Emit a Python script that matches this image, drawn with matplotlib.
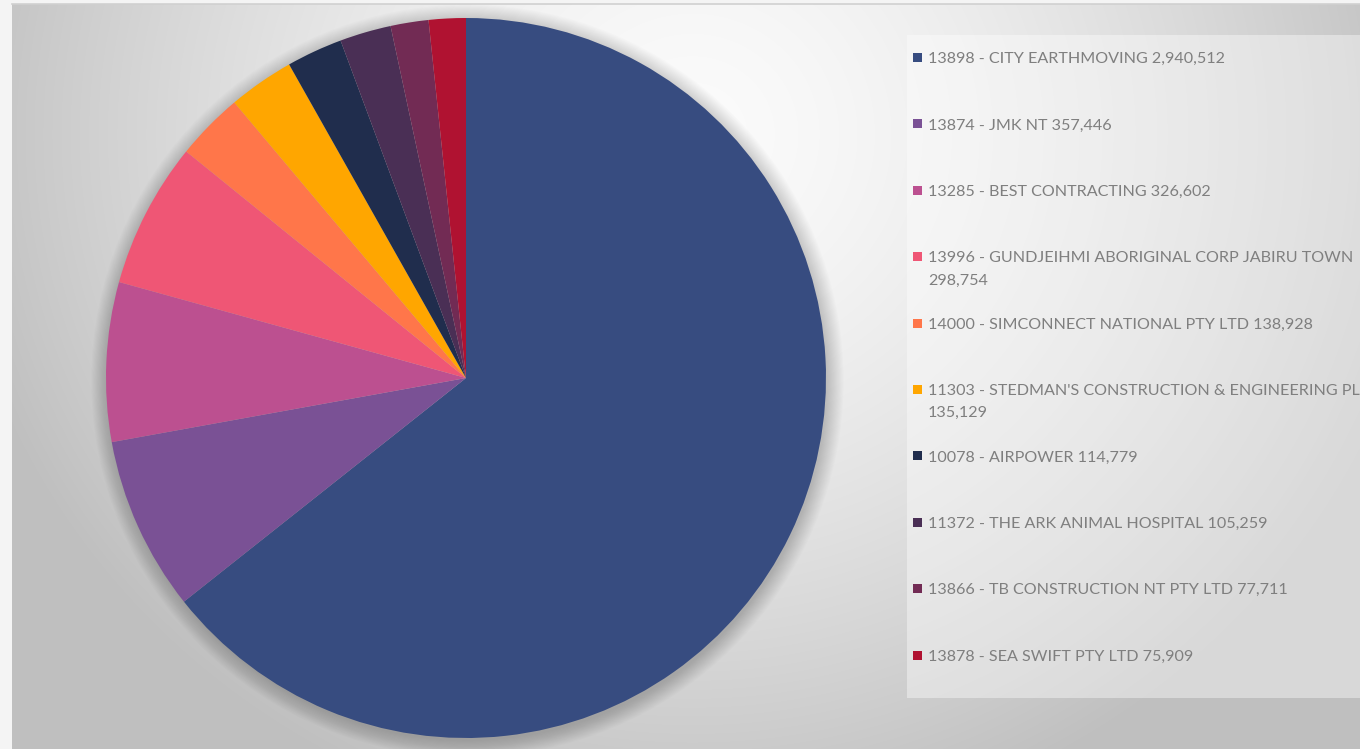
import numpy as np
import matplotlib.pyplot as plt
from matplotlib.patches import Rectangle, Circle

names = ['13898 - CITY EARTHMOVING', '13874 - JMK NT', '13285 - BEST CONTRACTING',
         '13996 - GUNDJEIHMI ABORIGINAL CORP JABIRU TOWN', '14000 - SIMCONNECT NATIONAL PTY LTD',
         "11303 - STEDMAN'S CONSTRUCTION & ENGINEERING PL", '10078 - AIRPOWER',
         '11372 - THE ARK ANIMAL HOSPITAL', '13866 - TB CONSTRUCTION NT PTY LTD',
         '13878 - SEA SWIFT PTY LTD']
values = [2940512, 357446, 326602, 298754, 138928, 135129, 114779, 105259, 77711, 75909]
colors = ['#374c80', '#7a5195', '#bc5090', '#ef5675', '#ff764a', '#ffa600',
          '#202d4d', '#4a2f55', '#722b54', '#b01231']

W, H = 1360, 749
fig = plt.figure(figsize=(W / 100, H / 100), dpi=100)
fig.patch.set_facecolor('#f4f4f4')

# background with radial grey gradient
bg = fig.add_axes([12 / W, 0, 1 - 12 / W, (H - 4) / H])
yy, xx = np.mgrid[0:745, 0:1348]
d = np.hypot((xx - 680) / 1.0, (yy - 130) / 0.95)
shade = np.clip(0.985 - 0.23 * (d / 740) ** 1.5, 0.75, 1)
bg.imshow(np.dstack([shade] * 3), aspect='auto', extent=(0, 1348, 745, 0))
bg.set_axis_off()
fig.add_artist(plt.Line2D([12 / W, 1], [(H - 4) / H] * 2, color='#d0d0d0', lw=1.2))

# pie
cx, cy, r = 466, H - 378, 360
ax = fig.add_axes([(cx - r) / W, (cy - r) / H, 2 * r / W, 2 * r / H])
for k in range(16):
    ax.add_patch(Circle((0.004, -0.008), 1.0 + 0.003 * k, color='black',
                        alpha=0.012, lw=0, zorder=0, clip_on=False))
ax.pie(values, colors=colors, startangle=90, counterclock=False,
       wedgeprops=dict(linewidth=0, zorder=2))
ax.set_xlim(-1, 1)
ax.set_ylim(-1, 1)
ax.set_aspect('equal')
ax.set_axis_off()

# legend box drawn by hand
fig.add_artist(Rectangle((907 / W, (H - 698) / H), (W - 907) / W, (698 - 35) / H,
                         transform=fig.transFigure, facecolor='white', alpha=0.4, lw=0))
for i, (n, v, c) in enumerate(zip(names, values, colors)):
    y = 57 + i * 66.4
    label = f'{n} {v:,}'
    if len(label) > 48:
        label = f'{n}\n{v:,}'
    fig.add_artist(Rectangle((913 / W, (H - y - 5) / H), 9 / W, 9 / H,
                             transform=fig.transFigure, facecolor=c, lw=0))
    fig.text(928 / W, (H - y + 5) / H, label, ha='left', va='top', fontsize=11.6,
             family='Lato', color='#7f7f7f', linespacing=1.75)

fig.savefig('out.png', dpi=100, facecolor=fig.get_facecolor())
